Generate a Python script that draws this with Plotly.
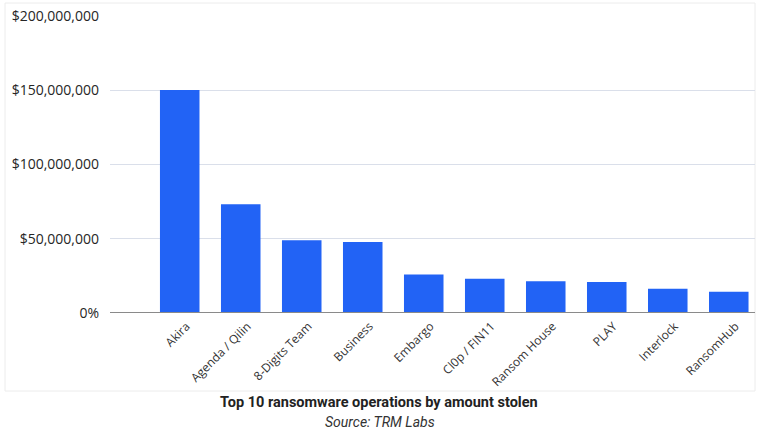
import plotly.graph_objects as go

categories = ["Akira", "Agenda / Qilin", "8-Digits Team", "Business", "Embargo",
              "Cl0p / FIN11", "Ransom House", "PLAY", "Interlock", "RansomHub"]
amounts = [150.2e6, 73.3e6, 49.0e6, 47.8e6, 26.0e6, 23.1e6, 21.3e6, 20.8e6, 16.4e6, 14.3e6]
y_tick_vals = [0, 50e6, 100e6, 150e6, 200e6]
y_tick_text = ["0%", "$50,000,000", "$100,000,000", "$150,000,000", "$200,000,000"]
caption = "Top 10 ransomware operations by amount stolen"
source = "Source: TRM Labs"

W, H = 760, 429
L, R, T, B = 110, 5, 16, 116
pw, ph = W - L - R, H - T - B

def px_x(x):
    return (x - L) / pw

def px_y(y):
    return (H - B - y) / ph

fig = go.Figure()
fig.add_trace(go.Bar(
    x=list(range(len(categories))),
    y=amounts,
    width=0.648,
    marker=dict(color="#2263F5", line=dict(width=0)),
    hoverinfo="skip",
))

fig.update_layout(
    width=W, height=H,
    margin=dict(l=L, r=R, t=T, b=B),
    paper_bgcolor="white",
    plot_bgcolor="white",
    showlegend=False,
    font=dict(family="Open Sans, sans-serif", color="#333"),
    xaxis=dict(
        range=[-1.143, 9.43],
        tickvals=[i + 0.11 for i in range(len(categories))],
        ticktext=categories,
        tickangle=-45,
        tickfont=dict(family="Open Sans, sans-serif", size=12, color="#333"),
        showgrid=False,
        zeroline=False,
        showline=False,
        ticks="",
        ticklabelstandoff=3,
        fixedrange=True,
    ),
    yaxis=dict(
        range=[0, 200e6],
        tickvals=y_tick_vals,
        ticktext=y_tick_text,
        tickfont=dict(family="Open Sans, sans-serif", size=14, color="#262626"),
        showgrid=True,
        gridcolor="#DADFEA",
        gridwidth=1,
        zeroline=False,
        showline=False,
        ticks="",
        ticklabelstandoff=10,
        fixedrange=True,
    ),
    shapes=[
        dict(type="rect", xref="paper", yref="paper",
             x0=px_x(5), x1=px_x(755), y0=px_y(391), y1=px_y(3),
             line=dict(color="#ECECEC", width=1), fillcolor="rgba(0,0,0,0)", layer="below"),
        dict(type="line", xref="paper", yref="y",
             x0=0, x1=1, y0=0, y1=0,
             line=dict(color="#8A8A8A", width=2), layer="above"),
    ],
    annotations=[
        dict(text="<b>" + caption + "</b>", xref="paper", yref="paper",
             x=px_x(379), y=px_y(402.5), xanchor="center", yanchor="middle",
             showarrow=False, font=dict(family="Roboto, sans-serif", size=14.5, color="#222")),
        dict(text="<i>" + source + "</i>", xref="paper", yref="paper",
             x=px_x(380), y=px_y(421.5), xanchor="center", yanchor="middle",
             showarrow=False, font=dict(family="Roboto, sans-serif", size=14, color="#333")),
    ],
)

fig.write_html("out.html", config={"displayModeBar": False},
               post_script="document.body.style.margin='0px';document.body.style.overflow='hidden';")
